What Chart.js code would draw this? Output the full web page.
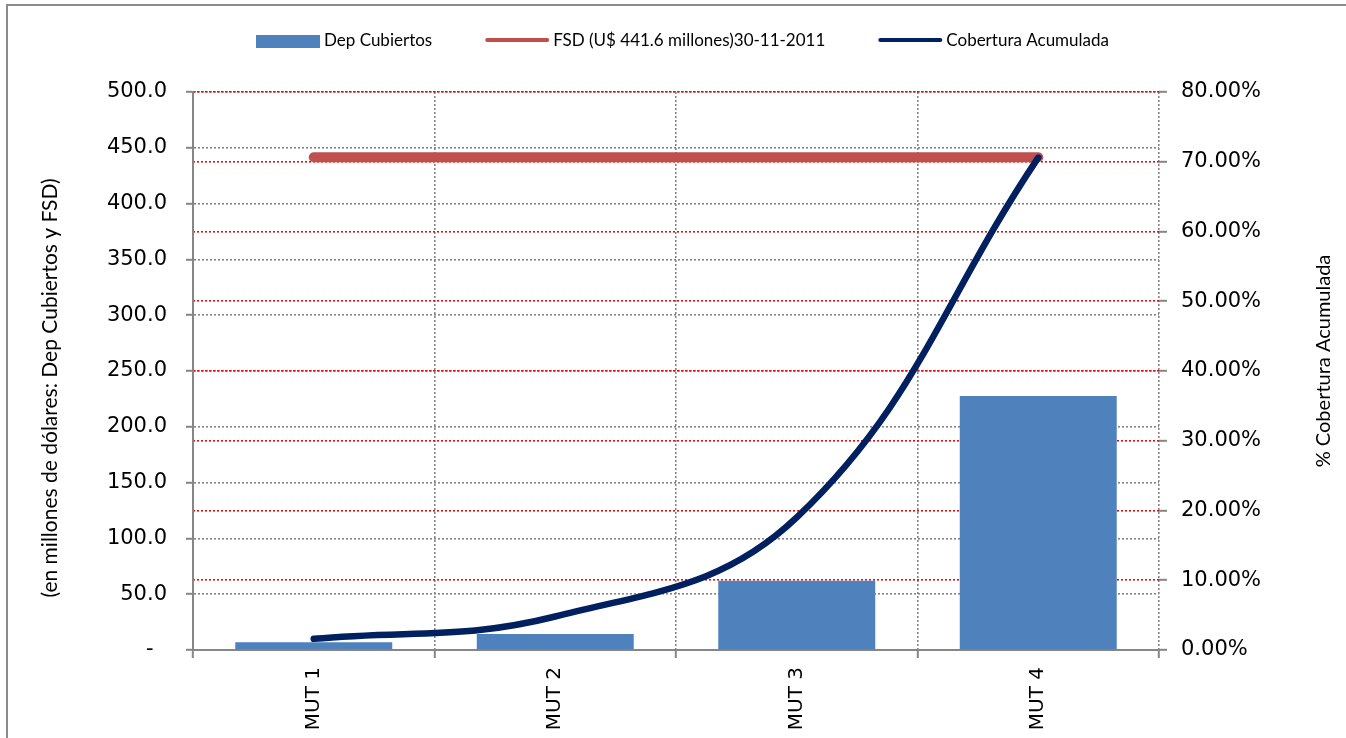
<!DOCTYPE html>
<html lang="es">
<head>
<meta charset="utf-8">
<title>Cobertura acumulada de depósitos</title>
<script src="https://cdn.jsdelivr.net/npm/chart.js@4.4.1/dist/chart.umd.min.js"></script>
<style>
  html, body { margin: 0; padding: 0; background: #ffffff; }
  #wrap { position: relative; width: 1346px; height: 738px; }
</style>
</head>
<body>
<div id="wrap"><canvas id="chart"></canvas></div>
<script>
// Categorías y series
const categories = ['MUT 1', 'MUT 2', 'MUT 3', 'MUT 4'];
const depCubiertos = [7.0, 14.3, 62.0, 227.5];          // millones de US$
const fsd = [441.6, 441.6, 441.6, 441.6];                 // FSD al 30-11-2011
const coberturaAcumulada = [1.6, 4.8, 19.0, 70.6];       // %

const seriesNames = ['Dep Cubiertos', 'FSD (U$ 441.6 millones)30-11-2011', 'Cobertura Acumulada'];
const leftTitle = '(en millones de dólares: Dep Cubiertos y FSD)';
const rightTitle = '% Cobertura Acumulada';

const COLOR_BAR = '#4F81BD';
const COLOR_FSD = '#C0504D';
const COLOR_COB = '#002060';
const AXIS_GRAY = '#868686';
const GRID_GRAY = '#858585';
const GRID_RED = '#dd1111';
const TICK_FONT = { family: 'DejaVu Sans', size: 21 };
const TEXT_FONT = 'Lato';

// Marco exterior, leyenda y títulos de ejes
const decorations = {
  id: 'decorations',
  beforeDraw(chart) {
    const ctx = chart.ctx;
    ctx.save();
    ctx.strokeStyle = '#8a8a8a';
    ctx.lineWidth = 2;
    ctx.strokeRect(7, 5, chart.width + 20, chart.height + 20);
    ctx.restore();
  },
  afterDraw(chart) {
    const ctx = chart.ctx;
    ctx.save();
    // leyenda
    ctx.font = '17px ' + TEXT_FONT;
    ctx.textBaseline = 'middle';
    ctx.fillStyle = '#000000';
    let x = 256;
    const y = 41;
    const sw = 64;
    seriesNames.forEach((name, i) => {
      if (i === 0) {
        ctx.fillStyle = COLOR_BAR;
        ctx.fillRect(x, y - 6, sw, 13);
      } else {
        ctx.strokeStyle = i === 1 ? COLOR_FSD : COLOR_COB;
        ctx.lineWidth = 4;
        ctx.lineCap = 'round';
        ctx.beginPath();
        ctx.moveTo(x + 2, y - 1);
        ctx.lineTo(x + sw - 2, y - 1);
        ctx.stroke();
      }
      ctx.fillStyle = '#000000';
      ctx.textAlign = 'left';
      ctx.fillText(name, x + sw + 4, y);
      x += sw + 4 + ctx.measureText(name).width + 53;
    });
    // títulos de ejes
    ctx.textAlign = 'center';
    ctx.font = '21px ' + TEXT_FONT;
    ctx.save();
    ctx.translate(50, 388);
    ctx.rotate(-Math.PI / 2);
    ctx.fillText(leftTitle, 0, 0);
    ctx.restore();
    ctx.font = '20px ' + TEXT_FONT;
    ctx.save();
    ctx.translate(1324, 361);
    ctx.rotate(-Math.PI / 2);
    ctx.fillText(rightTitle, 0, 0);
    ctx.restore();
    ctx.restore();
  }
};

new Chart(document.getElementById('chart'), {
  data: {
    labels: categories,
    datasets: [
      {
        type: 'bar',
        label: seriesNames[0],
        data: depCubiertos,
        backgroundColor: COLOR_BAR,
        yAxisID: 'y',
        barPercentage: 0.65,
        categoryPercentage: 1.0,
        order: 3
      },
      {
        type: 'line',
        label: seriesNames[1],
        data: fsd,
        borderColor: COLOR_FSD,
        borderWidth: 10,
        borderCapStyle: 'round',
        pointRadius: 0,
        tension: 0,
        yAxisID: 'y',
        order: 2
      },
      {
        type: 'line',
        label: seriesNames[2],
        data: coberturaAcumulada,
        borderColor: COLOR_COB,
        borderWidth: 6.5,
        borderCapStyle: 'round',
        pointRadius: 0,
        tension: 0.4,
        yAxisID: 'y1',
        order: 1
      }
    ]
  },
  options: {
    responsive: true,
    maintainAspectRatio: false,
    animation: false,
    layout: { padding: { top: 92, left: 0, right: 0, bottom: 0 } },
    plugins: {
      legend: { display: false },
      tooltip: { enabled: false }
    },
    scales: {
      x: {
        offset: true,
        grid: {
          offset: true,
          color: GRID_GRAY,
          lineWidth: 1.6,
          tickColor: AXIS_GRAY,
          tickWidth: 2,
          tickLength: 8
        },
        border: { color: AXIS_GRAY, width: 2, dash: [2, 2] },
        ticks: {
          color: '#000000',
          font: { family: 'DejaVu Sans', size: 20 },
          minRotation: 90,
          maxRotation: 90,
          padding: 9,
          autoSkip: false
        },
        afterFit(scale) { scale.height = 88; }
      },
      y: {
        position: 'left',
        min: 0,
        max: 500,
        grid: {
          color: GRID_GRAY,
          lineWidth: 1.6,
          tickColor: AXIS_GRAY,
          tickWidth: 2,
          tickLength: 7
        },
        border: { color: AXIS_GRAY, width: 2, dash: [2, 2] },
        ticks: {
          stepSize: 50,
          color: '#000000',
          font: TICK_FONT,
          padding: 19,
          callback: (v) => (v === 0 ? '-  ' : v.toFixed(1))
        },
        afterFit(scale) { scale.width = 193; }
      },
      y1: {
        position: 'right',
        min: 0,
        max: 80,
        grid: {
          color: GRID_RED,
          lineWidth: 1.6,
          tickColor: AXIS_GRAY,
          tickWidth: 2,
          tickLength: 8
        },
        border: { display: false, dash: [2, 2] },
        ticks: {
          stepSize: 10,
          color: '#000000',
          font: TICK_FONT,
          padding: 14,
          callback: (v) => v.toFixed(2) + '%'
        },
        afterFit(scale) { scale.width = 187; }
      }
    }
  },
  plugins: [decorations]
});
</script>
</body>
</html>
